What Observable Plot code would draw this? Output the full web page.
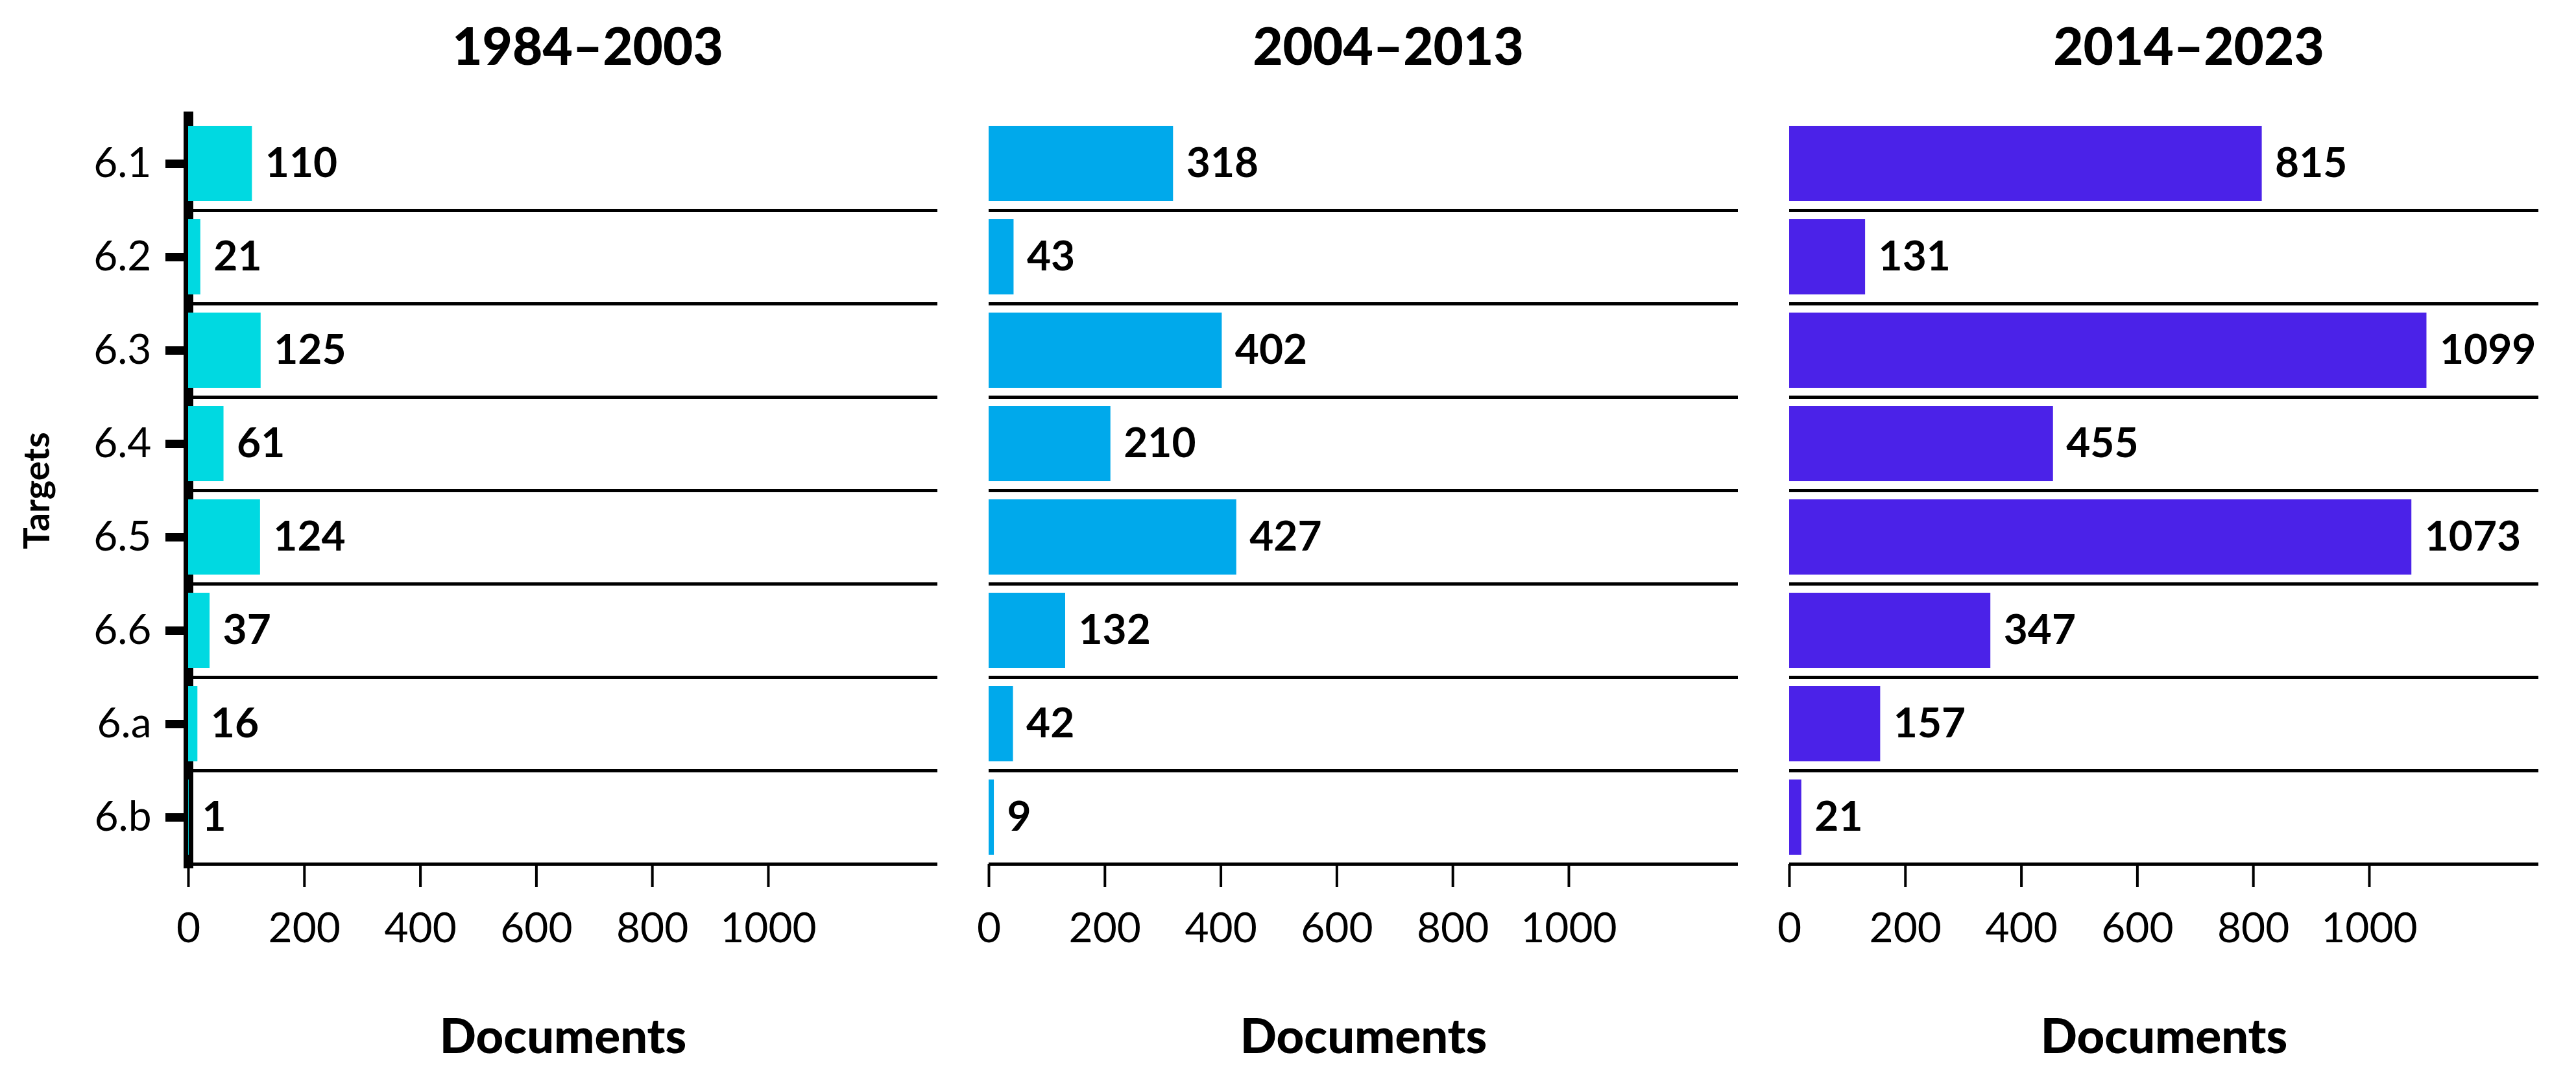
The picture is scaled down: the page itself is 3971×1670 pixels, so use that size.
<!DOCTYPE html>
<html>
<head>
<meta charset="utf-8">
<script src="https://cdn.jsdelivr.net/npm/d3@7"></script>
<script src="https://cdn.jsdelivr.net/npm/@observablehq/plot@0.6"></script>
<style>
  html, body { margin: 0; padding: 0; background: #fff; }
  #chart svg { display: block; }
</style>
</head>
<body>
<div id="chart"></div>
<script>
// ---- data ----
const targets = ["6.1", "6.2", "6.3", "6.4", "6.5", "6.6", "6.a", "6.b"];
const periods = ["1984–2003", "2004–2013", "2014–2023"];
const docs1984_2003 = [110, 21, 125, 61, 124, 37, 16, 1];
const docs2004_2013 = [318, 43, 402, 210, 427, 132, 42, 9];
const docs2014_2023 = [815, 131, 1099, 455, 1073, 347, 157, 21];
const periodColors = ["#00d9e1", "#00a9eb", "#4b22e8"];
const xTicks = [0, 200, 400, 600, 800, 1000];
const xMax = 1292;

const series = [docs1984_2003, docs2004_2013, docs2014_2023];
const table = [];
periods.forEach((p, i) => {
  targets.forEach((t, j) => table.push({period: p, target: t, value: series[i][j]}));
});

const FONT = "Lato, 'Open Sans', sans-serif";

const chart = Plot.plot({
  width: 3971,
  height: 1670,
  marginTop: 180,
  marginBottom: 338,
  marginLeft: 290,
  marginRight: 57,
  style: {fontFamily: FONT, background: "#fff", color: "#000"},
  fx: {domain: periods, paddingInner: 0.064, paddingOuter: 0, axis: null},
  x: {domain: [0, xMax]},
  y: {domain: targets, padding: 0},
  color: {domain: periods, range: periodColors},
  marks: [
    // y axis line (first panel only)
    Plot.ruleX([0], {fx: () => periods[0], x: d => d, stroke: "#000", strokeWidth: 15, insetTop: -8, insetBottom: -7}),
    // bars
    Plot.barX(table, {fx: "period", y: "target", x: "value", fill: "period", insetTop: 14, insetBottom: 14}),
    // row separators at bottom of each band
    Plot.ruleY(table, {fx: "period", y: "target", dy: 72, stroke: "#000", strokeWidth: 5}),
    // value labels
    Plot.text(table, {fx: "period", y: "target", x: "value", text: d => String(d.value), dx: 20, textAnchor: "start", fontWeight: "bold", fontSize: 64, fill: "#000"}),
    // axes
    Plot.axisY({tickSize: 35, tickPadding: 22, strokeWidth: 13, fontSize: 64, fontWeight: 400, label: null}),
    Plot.axisX({ticks: xTicks, tickSize: 36, tickPadding: 39, strokeWidth: 4, fontSize: 64, fontWeight: 400, label: null, tickFormat: d => String(d)}),
    // panel titles
    Plot.text(periods, {fx: d => d, text: d => d, frameAnchor: "top", dy: -106, dx: 38, lineAnchor: "middle", fontWeight: 900, fontSize: 80, fill: "#000"}),
    // x axis titles
    Plot.text(periods, {fx: d => d, text: () => "Documents", frameAnchor: "bottom", dy: 268, lineAnchor: "middle", fontWeight: 900, fontSize: 74, fill: "#000"}),
    // y axis title
    Plot.text([periods[0]], {fx: d => d, text: () => "Targets", frameAnchor: "left", textAnchor: "middle", dx: -232, rotate: -90, lineAnchor: "middle", fontWeight: "bold", fontSize: 56, fill: "#000"})
  ]
});

document.getElementById("chart").appendChild(chart);
</script>
</body>
</html>
